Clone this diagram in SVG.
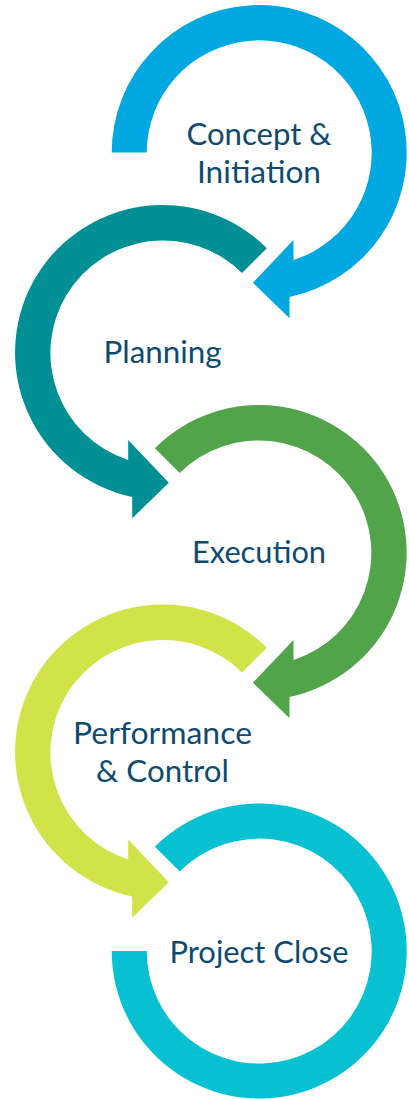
<svg xmlns="http://www.w3.org/2000/svg" width="409" height="1099" viewBox="0 0 409 1099">
  <style>
    .lbl { font-family: Lato, "Open Sans", sans-serif; font-size: 30px; fill: #0E4B6F; text-anchor: middle; }
  </style>
  <defs>
    <path id="cw" d="M -147.5,0 A 147.5 147.5 0 1 1 30.3,144.4 L 30.3,165.8 L -6.3,130.2 L 34.3,87.5 L 34.3,107.5 A 112.5 112.5 0 1 0 -112.5,0 Z"/>
    <path id="cw2" d="M -104.3,-104.3 A 147.5 147.5 0 1 1 30.3,144.4 L 30.3,165.8 L -6.3,130.2 L 34.3,87.5 L 34.3,107.5 A 112.5 112.5 0 1 0 -79.5,-79.5 Z"/>
    <path id="ccw" d="M 104.3,-104.3 A 147.5 147.5 0 1 0 -30.3,144.4 L -30.3,165.8 L 6.3,130.2 L -34.3,87.5 L -34.3,107.5 A 112.5 112.5 0 1 1 79.5,-79.5 Z"/>
    <path id="ring" d="M -104.3,-104.3 A 147.5 147.5 0 1 1 -147.5,0 L -112.5,0 A 112.5 112.5 0 1 0 -79.5,-79.5 Z"/>
  </defs>
  <g id="connectors"></g>
  <g id="node-concept">
    <use href="#cw" transform="translate(259.2,152.5)" fill="#00A7E1"/>
    <text class="lbl" x="259" y="145" textLength="145" lengthAdjust="spacingAndGlyphs">Concept &amp;</text>
    <text class="lbl" x="259" y="182.7" textLength="124" lengthAdjust="spacingAndGlyphs">Initiation</text>
  </g>
  <g id="node-planning">
    <use href="#ccw" transform="translate(162.5,352.5)" fill="#008F95"/>
    <text class="lbl" x="162.5" y="363.3" textLength="118" lengthAdjust="spacingAndGlyphs">Planning</text>
  </g>
  <g id="node-execution">
    <use href="#cw2" transform="translate(259.2,552.5)" fill="#52A44B"/>
    <text class="lbl" x="259" y="562.7" textLength="134" lengthAdjust="spacingAndGlyphs">Execution</text>
  </g>
  <g id="node-performance">
    <use href="#ccw" transform="translate(162.5,752)" fill="#D1E348"/>
    <text class="lbl" x="162.5" y="744" textLength="179" lengthAdjust="spacingAndGlyphs">Performance</text>
    <text class="lbl" x="162.5" y="781.7" textLength="133" lengthAdjust="spacingAndGlyphs">&amp; Control</text>
  </g>
  <g id="node-close">
    <use href="#ring" transform="translate(259.2,951)" fill="#07C1D2"/>
    <text class="lbl" x="259" y="962.7" textLength="179" lengthAdjust="spacingAndGlyphs">Project Close</text>
  </g>
</svg>
